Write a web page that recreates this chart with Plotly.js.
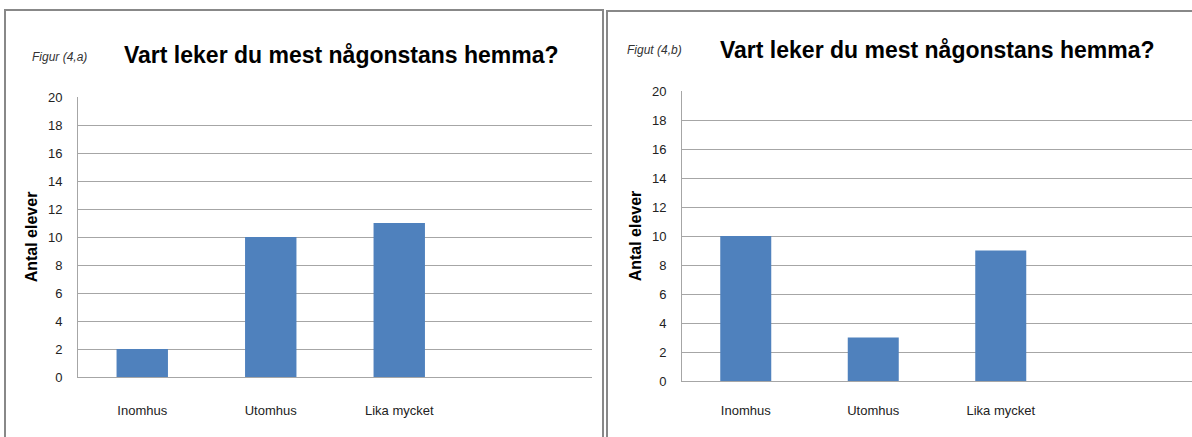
<!DOCTYPE html>
<html>
<head>
<meta charset="utf-8">
<script src="https://cdn.plot.ly/plotly-3.0.1.min.js"></script>
<style>html,body{margin:0;padding:0;background:#fff;}#chart{width:1192px;height:437px;}</style>
</head>
<body>
<div id="chart"></div>
<script>
const categories = ["Inomhus", "Utomhus", "Lika mycket"];
const valuesA = [2, 10, 11];
const valuesB = [10, 3, 9];
const chartTitle = "Vart leker du mest någonstans hemma?";
const labelA = "Figur (4,a)";
const labelB = "Figut (4,b)";
const yTitle = "Antal elever";
const yTicks = [0, 2, 4, 6, 8, 10, 12, 14, 16, 18, 20];

const W = 1192, H = 437;
const px = v => v / W;
const py = v => (H - v) / H;

const barColor = "#4F81BD";
const gridColor = "#A6A6A6";
const tickFont = {family: "Liberation Sans, Arial, sans-serif", size: 13, color: "#222"};

const traces = [
  {type: "bar", x: categories, y: valuesA, xaxis: "x", yaxis: "y", marker: {color: barColor}, width: 0.4, hoverinfo: "x+y"},
  {type: "bar", x: categories, y: valuesB, xaxis: "x2", yaxis: "y2", marker: {color: barColor}, width: 0.4, hoverinfo: "x+y"}
];

function xax(d0, d1, anchor, tl) {
  return {domain: [px(d0), px(d1)], anchor: anchor, type: "category", range: [-0.5, 3.5],
    showline: true, linecolor: gridColor, linewidth: 1, showgrid: false, zeroline: false,
    ticks: "outside", ticklen: tl, tickcolor: "rgba(0,0,0,0)", tickfont: tickFont, fixedrange: true};
}
function yax(top, bottom, anchor) {
  return {domain: [py(bottom), py(top)], anchor: anchor, range: [0, 20], tickvals: yTicks,
    showline: true, linecolor: gridColor, linewidth: 1, showgrid: true, gridcolor: gridColor, gridwidth: 1,
    zeroline: false, ticks: "outside", ticklen: 12, tickcolor: "rgba(0,0,0,0)", tickfont: tickFont,
    title: {text: yTitle, font: {family: "Liberation Sans, Arial, sans-serif", size: 16, color: "#000", weight: "bold"}, standoff: 6},
    fixedrange: true};
}

const titleFont = {family: "Liberation Sans, Arial, sans-serif", size: 23, color: "#000", weight: "bold"};
const figFont = {family: "Liberation Sans, Arial, sans-serif", size: 12, color: "#333", style: "italic"};

const layout = {
  width: W, height: H,
  margin: {l: 0, r: 0, t: 0, b: 0},
  paper_bgcolor: "#fff", plot_bgcolor: "#fff",
  showlegend: false,
  xaxis: xax(78, 592, "y", 21),
  yaxis: yax(97, 377, "x"),
  xaxis2: xax(682, 1192, "y2", 17),
  yaxis2: yax(91, 381, "x2"),
  annotations: [
    {xref: "paper", yref: "paper", x: px(341), y: py(55), text: chartTitle, showarrow: false, font: titleFont, xanchor: "center", yanchor: "middle"},
    {xref: "paper", yref: "paper", x: px(59), y: py(57), text: labelA, showarrow: false, font: figFont, xanchor: "center", yanchor: "middle"},
    {xref: "paper", yref: "paper", x: px(937), y: py(50), text: chartTitle, showarrow: false, font: titleFont, xanchor: "center", yanchor: "middle"},
    {xref: "paper", yref: "paper", x: px(654), y: py(50), text: labelB, showarrow: false, font: figFont, xanchor: "center", yanchor: "middle"}
  ],
  shapes: [
    {type: "rect", xref: "paper", yref: "paper", x0: px(5), x1: px(603), y0: -0.2, y1: py(10), line: {color: "#888", width: 2}},
    {type: "rect", xref: "paper", yref: "paper", x0: px(607), x1: 1.2, y0: -0.2, y1: py(11), line: {color: "#888", width: 2}}
  ]
};

Plotly.newPlot("chart", traces, layout, {displayModeBar: false, staticPlot: true});
</script>
</body>
</html>
